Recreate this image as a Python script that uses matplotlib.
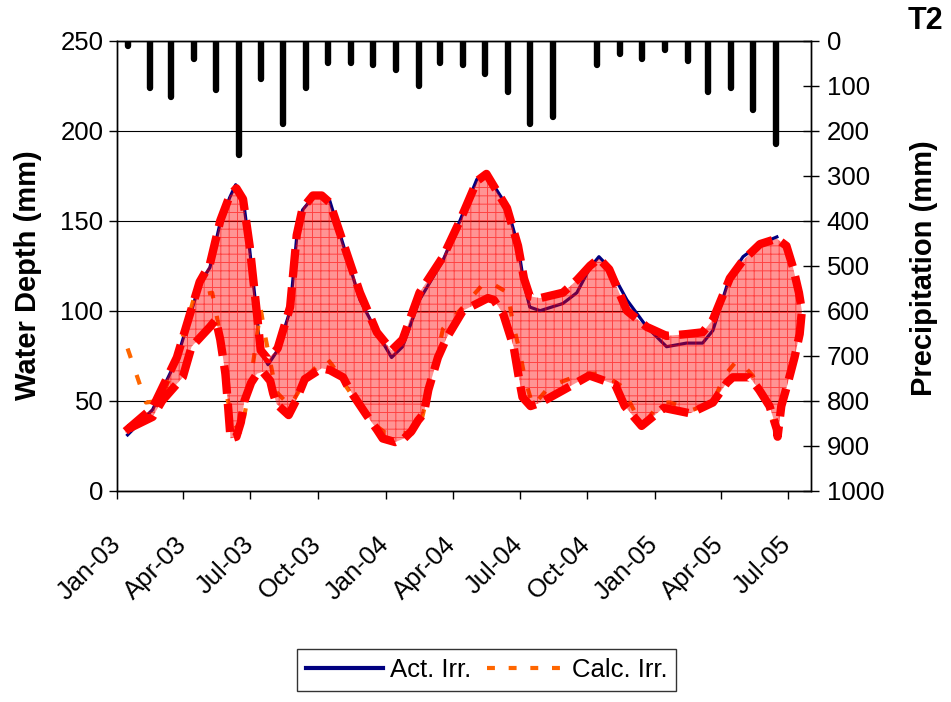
import matplotlib
matplotlib.use("Agg")
import matplotlib.pyplot as plt
import matplotlib.dates as mdates
import matplotlib.transforms as mtrans
from matplotlib.lines import Line2D
import pandas as pd

plt.rcParams["font.family"] = ["Liberation Sans", "DejaVu Sans"]
plt.rcParams["hatch.linewidth"] = 0.7

# Monthly precipitation (mm), plotted mid-month on the inverted right axis
precip_months = ["2003-01-15", "2003-02-15", "2003-03-15", "2003-04-15", "2003-05-15",
                 "2003-06-15", "2003-07-15", "2003-08-15", "2003-09-15", "2003-10-15",
                 "2003-11-15", "2003-12-15", "2004-01-15", "2004-02-15", "2004-03-15",
                 "2004-04-15", "2004-05-15", "2004-06-15", "2004-07-15", "2004-08-15",
                 "2004-10-15", "2004-11-15", "2004-12-15", "2005-01-15", "2005-02-15",
                 "2005-03-15", "2005-04-15", "2005-05-15", "2005-06-15"]
precip_mm = [12, 105, 125, 40, 110, 255, 85, 185, 105, 50,
             50, 55, 65, 100, 50, 55, 75, 115, 185, 170,
             55, 30, 40, 20, 45, 115, 105, 155, 230]

# Actual irrigation water depth (mm)
act_dates = ["2003-01-15", "2003-02-18", "2003-03-23", "2003-04-23", "2003-05-07",
             "2003-05-21", "2003-06-03", "2003-06-11", "2003-06-21", "2003-06-30",
             "2003-07-10", "2003-07-14", "2003-07-25", "2003-08-07", "2003-08-24",
             "2003-09-02", "2003-09-10", "2003-09-24", "2003-10-06", "2003-10-17",
             "2003-11-04", "2003-11-27", "2003-12-20", "2004-01-09", "2004-01-24",
             "2004-02-16", "2004-03-19", "2004-04-11", "2004-05-04", "2004-05-17",
             "2004-06-14", "2004-06-29", "2004-07-07", "2004-07-15", "2004-07-29",
             "2004-08-29", "2004-09-17", "2004-10-05", "2004-10-17", "2004-10-31",
             "2004-11-24", "2004-12-21", "2005-01-17", "2005-02-13", "2005-03-07",
             "2005-03-21", "2005-04-13", "2005-05-01", "2005-05-24", "2005-06-16"]
act_depth = [31, 45, 73, 115, 124, 149, 163, 170, 163, 134,
             97, 78, 70, 78, 100, 141, 156, 163, 163, 161,
             137, 106, 88, 74, 80, 106, 128, 150, 173, 176,
             158, 136, 115, 102, 100, 104, 110, 124, 130, 124,
             106, 91, 80, 82, 82, 89, 119, 130, 137, 141]

# Calculated irrigation water depth (mm)
calc_dates = ["2003-01-15", "2003-02-09", "2003-03-01", "2003-03-20", "2003-04-16",
              "2003-05-10", "2003-05-15", "2003-05-18", "2003-05-29", "2003-06-07",
              "2003-06-18", "2003-07-01", "2003-07-15", "2003-07-22", "2003-08-05",
              "2003-08-24", "2003-09-19", "2003-10-12", "2003-10-20", "2003-11-08",
              "2003-12-10", "2004-01-01", "2004-02-12", "2004-02-18", "2004-03-05",
              "2004-03-19", "2004-04-15", "2004-05-15", "2004-05-21", "2004-06-15",
              "2004-06-22", "2004-07-01", "2004-07-08", "2004-07-19", "2004-08-11",
              "2004-09-25", "2004-10-22", "2004-11-17", "2004-12-07", "2004-12-21",
              "2005-01-08", "2005-01-21", "2005-02-22", "2005-03-21", "2005-04-06",
              "2005-04-22", "2005-04-26", "2005-05-14", "2005-06-02", "2005-06-10"]
calc_depth = [79, 49, 50, 70, 108, 110, 100, 93, 54, 39,
              31, 60, 101, 84, 55, 47, 65, 74, 70, 58,
              39, 32, 32, 38, 65, 90, 102, 116, 116, 110,
              93, 78, 63, 47, 58, 65, 65, 58, 42, 39,
              49, 49, 45, 49, 64, 72, 72, 64, 49, 39]

# Range band: upper edge (left to right, wrapping round the right end)
band_upper_dates = ["2003-01-12", "2003-02-18", "2003-03-23", "2003-04-23", "2003-05-07",
                    "2003-05-21", "2003-06-03", "2003-06-12", "2003-06-21", "2003-06-30",
                    "2003-07-10", "2003-07-15", "2003-07-25", "2003-08-07", "2003-08-24",
                    "2003-09-02", "2003-09-10", "2003-09-24", "2003-10-06", "2003-10-17",
                    "2003-11-04", "2003-11-27", "2003-12-20", "2004-01-09", "2004-01-24",
                    "2004-02-16", "2004-03-19", "2004-04-11", "2004-05-04", "2004-05-17",
                    "2004-06-14", "2004-06-29", "2004-07-07", "2004-07-15", "2004-07-29",
                    "2004-08-29", "2004-09-17", "2004-10-05", "2004-10-17", "2004-10-31",
                    "2004-11-24", "2004-12-21", "2005-01-17", "2005-02-13", "2005-03-07",
                    "2005-03-21", "2005-04-13", "2005-05-01", "2005-05-24", "2005-06-16",
                    "2005-06-29", "2005-07-08", "2005-07-16", "2005-07-20", "2005-07-17",
                    "2005-07-10", "2005-07-01", "2005-06-22"]
band_upper = [33, 46, 74, 116, 126, 150, 164, 168, 162, 136,
              98, 78, 73, 79, 102, 142, 157, 164, 164, 160,
              138, 110, 88, 78, 84, 110, 130, 150, 172, 176,
              157, 136, 118, 108, 107, 110, 117, 125, 129, 123,
              100, 91, 86, 87, 88, 95, 118, 128, 137, 140,
              136, 124, 110, 100, 87, 74, 60, 47]

# Range band: lower edge (left to right)
band_lower_dates = ["2003-01-12", "2003-01-19", "2003-02-18", "2003-03-03", "2003-03-31",
                    "2003-04-12", "2003-05-07", "2003-05-15", "2003-05-21", "2003-05-28",
                    "2003-06-01", "2003-06-04", "2003-06-12", "2003-06-18", "2003-06-23",
                    "2003-07-02", "2003-07-10", "2003-07-18", "2003-07-28", "2003-08-01",
                    "2003-08-06", "2003-08-22", "2003-09-01", "2003-09-13", "2003-10-06",
                    "2003-10-17", "2003-11-04", "2003-11-13", "2003-12-06", "2003-12-20",
                    "2003-12-28", "2004-01-14", "2004-01-26", "2004-02-05", "2004-02-14",
                    "2004-02-22", "2004-02-28", "2004-03-12", "2004-03-24", "2004-04-15",
                    "2004-05-19", "2004-05-27", "2004-06-09", "2004-06-23", "2004-06-30",
                    "2004-07-05", "2004-07-16", "2004-07-30", "2004-08-30", "2004-10-04",
                    "2004-11-08", "2004-11-21", "2004-12-14", "2005-01-13", "2005-02-18",
                    "2005-03-21", "2005-04-09", "2005-04-17", "2005-05-10", "2005-05-23",
                    "2005-06-06", "2005-06-16", "2005-06-17"]
band_lower = [32, 35, 41, 50, 63, 80, 91, 95, 84, 65,
              45, 29, 30, 38, 50, 60, 65, 66, 61, 54,
              48, 42, 50, 62, 68, 67, 63, 56, 42, 34,
              29, 27, 29, 33, 39, 43, 56, 74, 85, 100,
              107, 106, 98, 80, 63, 52, 47, 49, 56, 64,
              59, 47, 36, 46, 43, 49, 60, 63, 63, 56,
              47, 34, 30]

x_start, x_end = "2003-01-01", "2005-08-01"

W, H = 951, 702
fig = plt.figure(figsize=(W / 100, H / 100), dpi=100)
left, right, top, bottom = 117.3, 810.7, 40.7, 490.7
ax = fig.add_axes([left / W, 1 - bottom / H, (right - left) / W, (bottom - top) / H])
ax2 = ax.twinx()

to_dt = pd.to_datetime

# water depth lines
ax.plot(to_dt(act_dates), act_depth, color="#000080", lw=2.3, zorder=2,
        solid_joinstyle="round")
ax.plot(to_dt(calc_dates), calc_depth, color="#ff6600", lw=3.0, zorder=2.1,
        dashes=(2.4, 4.3), dash_capstyle="butt")

# shaded band with grid hatch and thick dashed outline
poly_x = list(to_dt(band_upper_dates)) + list(to_dt(band_lower_dates))[::-1]
poly_y = band_upper + band_lower[::-1]
ax.fill(poly_x, poly_y, facecolor=(1, 0, 0, 0.42), edgecolor="none", zorder=3)
ax.fill(poly_x, poly_y, facecolor="none", edgecolor=(1, 0, 0, 0.55), hatch="++",
        linewidth=0, zorder=3.1)
ax.plot(poly_x + [poly_x[0]], poly_y + [poly_y[0]], color="#ff0000", lw=6,
        dashes=(3.4, 1.2), dash_capstyle="butt", zorder=4)

# precipitation bars hanging from the top
ax2.vlines(to_dt(precip_months), 0, precip_mm, color="black", lw=4.6,
           capstyle="round")
ax2.set_ylim(1000, 0)
ax2.set_yticks(range(0, 1001, 100))

ax.set_xlim(to_dt(x_start), to_dt(x_end))
ax.set_ylim(0, 250)
ax.set_yticks(range(0, 251, 50))
ax.xaxis.set_major_locator(mdates.MonthLocator(bymonth=[1, 4, 7, 10]))
ax.xaxis.set_major_formatter(mdates.DateFormatter("%b-%y"))

ax.yaxis.grid(True, color="black", lw=0.8)
ax.set_axisbelow(True)

for sp in ax.spines.values():
    sp.set_linewidth(1.0)
for sp in ax2.spines.values():
    sp.set_linewidth(1.0)

ax.tick_params(axis="y", direction="out", length=6, width=1, labelsize=18.5, pad=4)
ax.tick_params(axis="x", direction="out", length=6, width=1, labelsize=18.5, pad=24)
ax2.tick_params(axis="y", direction="inout", length=11, width=1, labelsize=18.5, pad=6)

offset = mtrans.ScaledTranslation(8 / 100, 0, fig.dpi_scale_trans)
for lbl in ax.get_xticklabels():
    lbl.set_rotation(45)
    lbl.set_ha("right")
    lbl.set_transform(lbl.get_transform() + offset)

ax.set_ylabel("Water Depth (mm)", fontsize=21, fontweight="bold")
ax.yaxis.set_label_coords(-0.108, 0.48)
ax2.set_ylabel("Precipitation (mm)", fontsize=21, fontweight="bold")
ax2.yaxis.set_label_coords(1.143, 0.495)

fig.text(925 / W, 1 - 21 / H, "T2", fontsize=22, fontweight="bold",
         ha="center", va="center")

handles = [Line2D([], [], color="#000080", lw=3),
           Line2D([], [], color="#ff6600", lw=3, dashes=(1.9, 3.3))]
leg = fig.legend(handles, ["Act. Irr.", "Calc. Irr."], loc="center",
                 bbox_to_anchor=(486.5 / W, 1 - 670 / H), ncol=2, frameon=True,
                 fancybox=False, edgecolor="black", fontsize=18.5,
                 handlelength=3.0, handletextpad=0.3, columnspacing=0.6,
                 borderpad=0.35, borderaxespad=0)
leg.get_frame().set_linewidth(1.0)

fig.savefig("out.png", dpi=100)
